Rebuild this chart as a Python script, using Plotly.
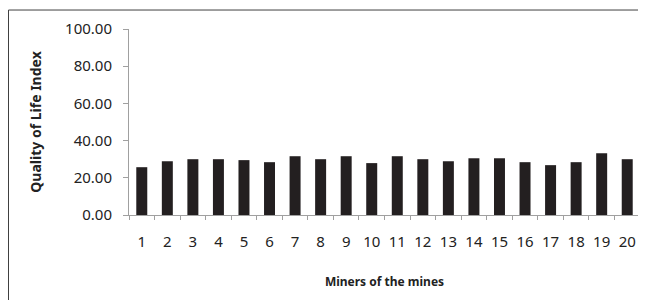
import plotly.graph_objects as go

miners = [str(i) for i in range(1, 21)]
qol_index = [25.7, 28.9, 30.0, 30.0, 29.5, 28.4, 31.6, 30.0, 31.6, 27.9,
             31.6, 30.0, 28.9, 30.5, 30.5, 28.4, 26.8, 28.4, 33.2, 30.0]
y_ticks = [0, 20, 40, 60, 80, 100]
y_tick_labels = ["0.00", "20.00", "40.00", "60.00", "80.00", "100.00"]

fig = go.Figure(go.Bar(x=miners, y=qol_index, marker=dict(color="#231f20", line=dict(width=0)),
                       width=0.43))

font = "Noto Sans"
border = dict(color="#404040", width=1)
fig.update_layout(
    width=638, height=292,
    margin=dict(l=121, r=6, t=21, b=85, pad=0),
    paper_bgcolor="white", plot_bgcolor="white",
    showlegend=False,
    font=dict(family=font, size=15, color="#222"),
    xaxis=dict(type="category", tickson="boundaries", ticks="outside", ticklen=4,
               tickcolor="#a0a0a0", showline=True, linecolor="#a0a0a0", linewidth=1,
               showgrid=False, tickfont=dict(size=15), ticklabelstandoff=13, tickangle=0,
               title=dict(text="<b>Miners of the mines</b>", font=dict(size=12), standoff=27)),
    yaxis=dict(range=[0, 100], tickvals=y_ticks, ticktext=y_tick_labels, ticks="outside",
               ticklen=5, tickcolor="#a0a0a0", showline=True, linecolor="#a0a0a0",
               linewidth=1, showgrid=False, zeroline=False, tickfont=dict(size=15),
               ticklabelstandoff=8,
               title=dict(text="<b>Quality of Life Index</b>", font=dict(size=14), standoff=20)),
    shapes=[
        dict(type="line", xref="paper", yref="paper", x0=-0.2358, x1=1.1,
             y0=1.102, y1=1.102, line=border, layer="below"),
        dict(type="line", xref="paper", yref="paper", x0=-0.2358, x1=-0.2358,
             y0=-0.6, y1=1.102, line=border, layer="below"),
    ],
)
fig.write_html("out.html")
